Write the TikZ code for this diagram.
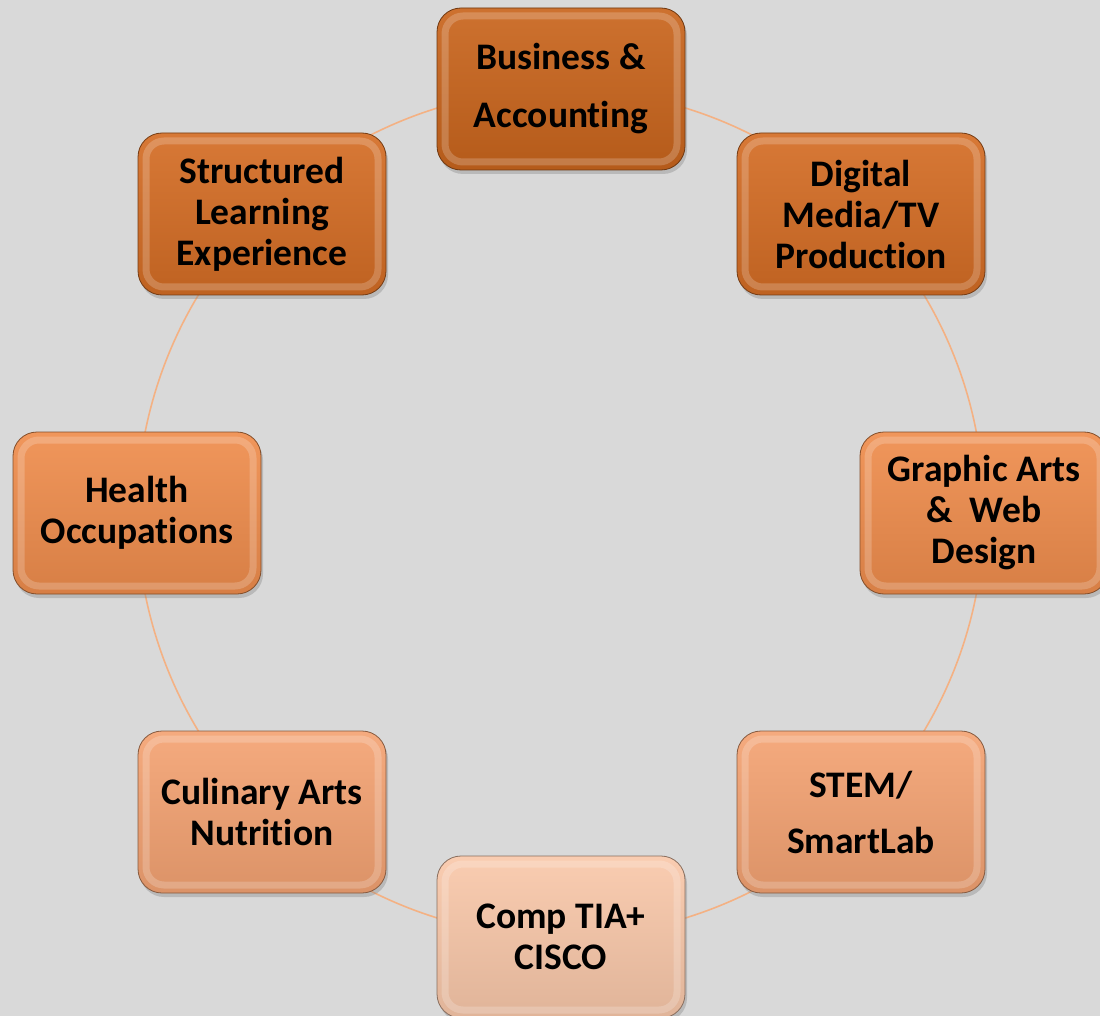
\documentclass[tikz,border=0pt]{standalone}
\usepackage{fontspec}
\setmainfont{Carlito}[Ligatures=NoCommon]
\usetikzlibrary{shadows}
\definecolor{bgc}{HTML}{D9D9D9}
\definecolor{arcc}{HTML}{F4B183}
\definecolor{cA}{HTML}{C9651D}
\definecolor{cB}{HTML}{D46D25}
\definecolor{cC}{HTML}{EF8D4D}
\definecolor{cD}{HTML}{F4A373}
\definecolor{cE}{HTML}{F9C8AA}
\pgfdeclarelayer{bgfill}
\pgfdeclarelayer{arcs}
\pgfsetlayers{bgfill,arcs,main}
\tikzset{
  box/.style={rounded corners=24pt, minimum width=248pt, minimum height=162pt,
    top color=#1!92!white, bottom color=#1!90!black, draw=#1!55!black, line width=0.8pt,
    drop shadow={shadow xshift=2pt, shadow yshift=-4pt, opacity=0.35},
    align=center, font=\bfseries\fontsize{37.5}{41}\selectfont, text=black,
    path picture={
      \draw[white, opacity=0.2, line width=7pt, rounded corners=18pt]
        ([shift={(8pt,8pt)}]path picture bounding box.south west) rectangle
        ([shift={(-8pt,-8pt)}]path picture bounding box.north east);
    }},
  arc/.style={draw=arcc, line width=1.6pt, bend left=22.5, looseness=0.885}
}
\begin{document}
\begin{tikzpicture}[x=1pt,y=-1pt]
\clip (0,0) rectangle (1100,1016);
\begin{pgfonlayer}{bgfill}
  \fill[bgc] (0,0) rectangle (1100,1016);
\end{pgfonlayer}
\node[box=cA, font=\bfseries\fontsize{37.5}{58}\selectfont] (biz) at (561,89) {Business \&\\Accounting};
\node[box=cB] (dig) at (861,214) {Digital\\Media/TV\\Production};
\node[box=cC] (gra) at (984,513) {Graphic Arts\\\&~~Web\\Design};
\node[box=cD, font=\bfseries\fontsize{37.5}{56}\selectfont] (stem) at (861,812) {STEM/\\SmartLab};
\node[box=cE] (comp) at (561,937) {Comp TIA+\\CISCO};
\node[box=cD] (cul) at (262,812) {Culinary Arts\\Nutrition};
\node[box=cC] (hea) at (137,513) {Health\\Occupations};
\node[box=cB] (sle) at (262,214) {Structured\\Learning\\Experience};
\begin{pgfonlayer}{arcs}
  \draw[arc] (biz.center) to (dig.center);
  \draw[arc] (dig.center) to (gra.center);
  \draw[arc] (gra.center) to (stem.center);
  \draw[arc] (stem.center) to (comp.center);
  \draw[arc] (comp.center) to (cul.center);
  \draw[arc] (cul.center) to (hea.center);
  \draw[arc] (hea.center) to (sle.center);
  \draw[arc] (sle.center) to (biz.center);
\end{pgfonlayer}
\end{tikzpicture}
\end{document}
